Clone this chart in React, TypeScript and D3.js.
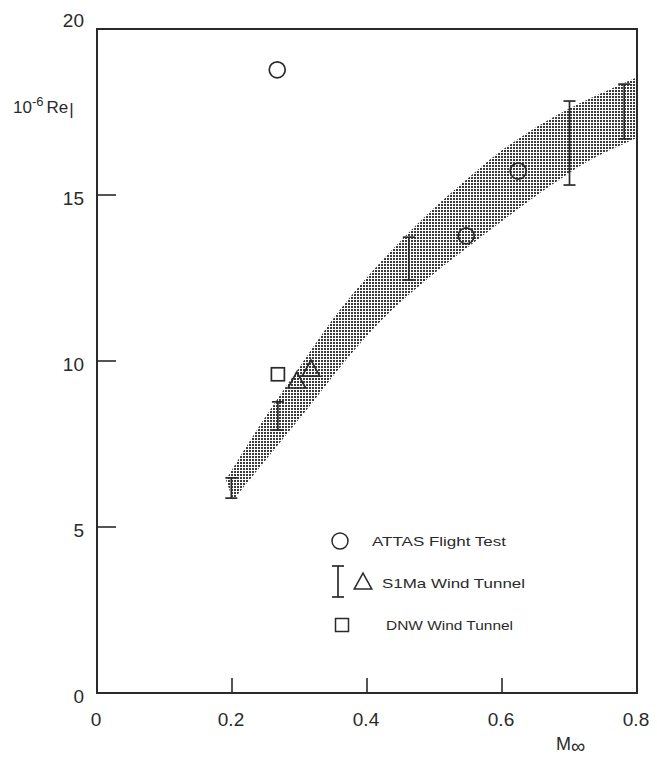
import React from "react";
import * as d3 from "d3";

const xTicks = [0, 0.2, 0.4, 0.6, 0.8];
const yTicks = [0, 5, 10, 15, 20];
const xInnerTicks = [0.2, 0.4, 0.6];
const yInnerTicks = [5, 10, 15];

// band (upper / lower edges) in (Mach, Re*1e-6)
const bandUpper: [number, number][] = [
  [0.191, 6.42], [0.2415, 8.07], [0.301, 9.85], [0.36, 11.54], [0.419, 12.95],
  [0.479, 14.22], [0.538, 15.3], [0.597, 16.3], [0.656, 17.11], [0.716, 17.77],
  [0.8, 18.55],
];
const bandLower: [number, number][] = [
  [0.2015, 5.81], [0.256, 7.17], [0.316, 8.67], [0.375, 10.18], [0.434, 11.48],
  [0.493, 12.53], [0.553, 13.49], [0.612, 14.4], [0.671, 15.27], [0.73, 16.05],
  [0.8, 16.72],
];

const attasM = [0.267, 0.547, 0.624];
const attasRe = [18.77, 13.77, 15.72];

const s1maBarM = [0.199, 0.268, 0.462, 0.7, 0.781];
const s1maBarLo = [5.87, 7.92, 12.44, 15.3, 16.69];
const s1maBarHi = [6.48, 8.77, 13.73, 17.83, 18.34];

const s1maTriM = [0.296, 0.317];
const s1maTriRe = [9.37, 9.73];

const dnwM = [0.268];
const dnwRe = [9.6];

const legendLabels = ["ATTAS Flight Test", "S1Ma  Wind Tunnel", "DNW  Wind Tunnel"];

const FONT = "'Liberation Sans', Arial, Helvetica, sans-serif";
const INK = "#2a2a2a";

export default function App() {
  const x = d3.scaleLinear().domain([0, 0.8]).range([97, 637]);
  const y = d3.scaleLinear().domain([0, 20]).range([693, 29]);

  const line = d3
    .line<[number, number]>()
    .x((d) => x(d[0]))
    .y((d) => y(d[1]))
    .curve(d3.curveCatmullRom);
  const up = line(bandUpper) || "";
  const lo = line([...bandLower].reverse()) || "";
  const bandPath = up + "L" + lo.slice(1) + "Z";

  const tri = (cx: number, cy: number, s: number) =>
    `M${cx},${cy - s * 0.62}L${cx + s * 0.55},${cy + s * 0.38}L${cx - s * 0.55},${cy + s * 0.38}Z`;

  const bar = (cx: number, y1: number, y2: number, key: string) => (
    <g key={key} stroke={INK} strokeWidth={1.7}>
      <line x1={cx} x2={cx} y1={y1} y2={y2} />
      <line x1={cx - 6} x2={cx + 6} y1={y1} y2={y1} />
      <line x1={cx - 6} x2={cx + 6} y1={y2} y2={y2} />
    </g>
  );

  return (
    <svg
      width={657}
      height={761}
      style={{ position: "absolute", left: 0, top: 0, background: "#fff" }}
      fontFamily={FONT}
    >
      <defs>
        <pattern id="dots" width={3} height={3} patternUnits="userSpaceOnUse">
          <rect x={0} y={0} width={2} height={2} fill="#3a3a3a" />
        </pattern>
      </defs>

      {/* band */}
      <path d={bandPath} fill="url(#dots)" stroke="none" />

      {/* frame */}
      <rect
        x={x(0)}
        y={y(20)}
        width={x(0.8) - x(0)}
        height={y(0) - y(20)}
        fill="none"
        stroke={INK}
        strokeWidth={2}
      />
      {xInnerTicks.map((t) => (
        <line key={"xt" + t} x1={x(t)} x2={x(t)} y1={y(0)} y2={y(0) - 15} stroke={INK} strokeWidth={1.6} />
      ))}
      {yInnerTicks.map((t) => (
        <line key={"yt" + t} x1={x(0)} x2={x(0) + 19} y1={y(t)} y2={y(t)} stroke={INK} strokeWidth={1.6} />
      ))}

      {/* tick labels */}
      {xTicks.map((t) => (
        <text key={"xl" + t} x={x(t) - 1} y={726} fontSize={19} textAnchor="middle" fill={INK}>
          {t === 0 ? "0" : t.toFixed(1)}
        </text>
      ))}
      {yTicks.map((t) => (
        <text
          key={"yl" + t}
          x={84}
          y={t === 20 ? y(t) - 2 : y(t) + 10}
          fontSize={19}
          textAnchor="end"
          fill={INK}
        >
          {t}
        </text>
      ))}

      {/* axis titles */}
      <text x={13} y={113} fontSize={17} fill={INK}>
        10
        <tspan fontSize={13} dy={-7}>-6</tspan>
        <tspan dy={7} dx={3}>Re</tspan>
        <tspan dx={1} dy={2} fontSize={17}>|</tspan>
      </text>
      <text x={556} y={750} fontSize={18} fill={INK}>
        M<tspan dy={3} fontSize={20}>∞</tspan>
      </text>

      {/* S1Ma error bars */}
      {s1maBarM.map((m, i) => bar(x(m), y(s1maBarHi[i]), y(s1maBarLo[i]), "b" + i))}

      {/* ATTAS circles */}
      {attasM.map((m, i) => (
        <circle key={"c" + i} cx={x(m)} cy={y(attasRe[i])} r={8} fill="none" stroke={INK} strokeWidth={1.7} />
      ))}

      {/* S1Ma triangles */}
      {s1maTriM.map((m, i) => (
        <path key={"t" + i} d={tri(x(m), y(s1maTriRe[i]), 16)} fill="none" stroke={INK} strokeWidth={1.7} />
      ))}

      {/* DNW squares */}
      {dnwM.map((m, i) => (
        <rect
          key={"s" + i}
          x={x(m) - 6.5}
          y={y(dnwRe[i]) - 6.5}
          width={13}
          height={13}
          fill="none"
          stroke={INK}
          strokeWidth={1.7}
        />
      ))}

      {/* legend */}
      <circle cx={340} cy={541} r={8} fill="none" stroke={INK} strokeWidth={1.5} />
      <text x={372} y={546} fontSize={13.5} fill={INK} textLength={134} lengthAdjust="spacingAndGlyphs">
        {legendLabels[0]}
      </text>
      {bar(338, 566, 597, "lb")}
      <path d={tri(363, 583, 16)} fill="none" stroke={INK} strokeWidth={1.5} />
      <text x={382} y={588} fontSize={13.5} fill={INK} textLength={143} lengthAdjust="spacingAndGlyphs">
        {legendLabels[1]}
      </text>
      <rect x={335.5} y={618.5} width={13} height={13} fill="none" stroke={INK} strokeWidth={1.5} />
      <text x={386} y={630} fontSize={13.5} fill={INK} textLength={127} lengthAdjust="spacingAndGlyphs">
        {legendLabels[2]}
      </text>
    </svg>
  );
}
